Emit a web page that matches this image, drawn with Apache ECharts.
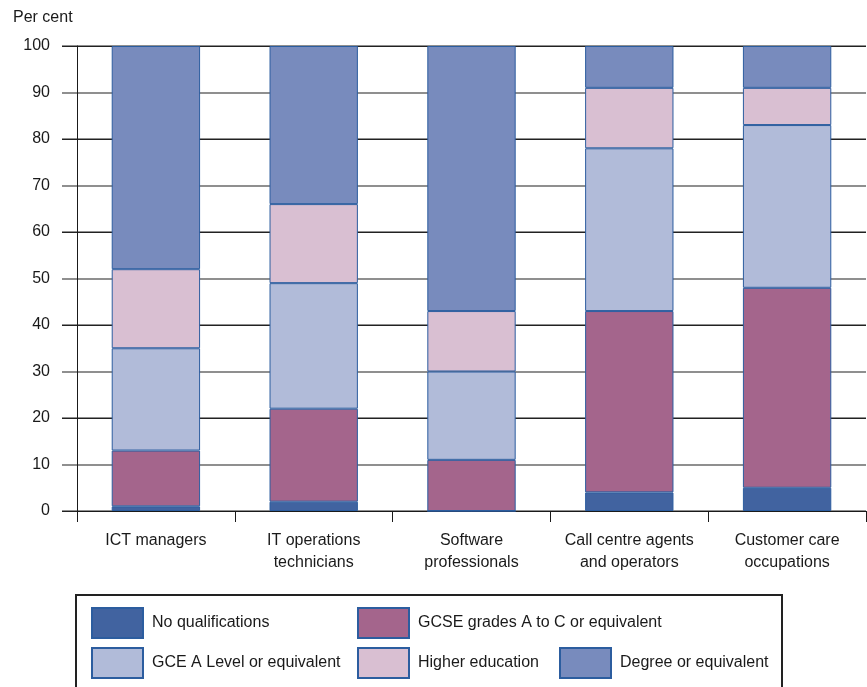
<!DOCTYPE html>
<html>
<head>
<meta charset="utf-8">
<script src="https://cdn.jsdelivr.net/npm/echarts@6/dist/echarts.min.js"></script>
<style>
  html, body { margin: 0; padding: 0; background: #fff; }
  #chart { width: 867px; height: 687px; }
</style>
</head>
<body>
<div id="chart"></div>
<script>
// Highest qualification held, by occupation (per cent)
const categories = [
  'ICT managers',
  'IT operations\ntechnicians',
  'Software\nprofessionals',
  'Call centre agents\nand operators',
  'Customer care\noccupations'
];
const noQualifications = [1, 2, 0, 4, 5];
const gcse = [12, 20, 11, 39, 43];
const aLevel = [22, 27, 19, 35, 35];
const higherEducation = [17, 17, 13, 13, 8];
const degree = [48, 34, 57, 9, 9];

const seriesNames = [
  'No qualifications',
  'GCSE grades A to C or equivalent',
  'GCE A Level or equivalent',
  'Higher education',
  'Degree or equivalent'
];
const seriesValues = [noQualifications, gcse, aLevel, higherEducation, degree];
const seriesColors = ['#4163a0', '#a4658c', '#b1bbd9', '#d9bfd2', '#788bbd'];

const FONT = '"Liberation Sans", Arial, sans-serif';
const FS = 16;

const chart = echarts.init(document.getElementById('chart'), null, { renderer: 'canvas' });

const series = seriesNames.map((name, i) => ({
  name: name,
  type: 'bar',
  stack: 'total',
  barWidth: '56%',
  data: seriesValues[i],
  itemStyle: { color: seriesColors[i], borderColor: '#2c5d9f', borderWidth: 1 },
  emphasis: { disabled: true }
}));

// legend layout: two rows inside a framed box
const legendSlots = [
  { left: 91, top: 607 },
  { left: 357, top: 607 },
  { left: 91, top: 647 },
  { left: 357, top: 647 },
  { left: 559, top: 647 }
];
const legends = seriesNames.map((name, i) => ({
  data: [name],
  left: legendSlots[i].left,
  top: legendSlots[i].top,
  padding: 0,
  icon: 'rect',
  itemWidth: 51,
  itemHeight: 30,
  itemGap: 0,
  selectedMode: false,
  textStyle: { fontFamily: FONT, fontSize: FS, color: '#1a1a1a', padding: [0, 0, 0, 4] }
}));

chart.setOption({
  animation: false,
  backgroundColor: '#fff',
  textStyle: { fontFamily: FONT },
  grid: { left: 77, right: 1, top: 46, bottom: 176, containLabel: false },
  legend: legends,
  xAxis: {
    type: 'category',
    data: categories,
    boundaryGap: true,
    axisLine: { lineStyle: { color: '#1a1a1a', width: 1 } },
    axisTick: { show: true, alignWithLabel: false, interval: 0, length: 11, lineStyle: { color: '#1a1a1a' } },
    axisLabel: { interval: 0, fontFamily: FONT, fontSize: FS, color: '#1a1a1a', lineHeight: 22, margin: 19 }
  },
  yAxis: [
    {
      type: 'value', min: 0, max: 100, interval: 10,
      name: 'Per cent',
      nameLocation: 'end',
      nameGap: 20,
      nameTextStyle: { fontFamily: FONT, fontSize: FS, color: '#1a1a1a', align: 'left', padding: [0, 0, 0, -64] },
      axisLine: { show: false },
      axisTick: { show: true, length: 15, lineStyle: { color: '#8f8f8f', width: 2 } },
      splitLine: { show: true, lineStyle: { color: '#8f8f8f', width: 2 } },
      axisLabel: { fontFamily: FONT, fontSize: FS, color: '#1a1a1a', margin: 27 }
    },
    {
      type: 'value', min: 0, max: 100, interval: 20, position: 'left',
      axisLine: { show: true, lineStyle: { color: '#1a1a1a', width: 1 } },
      axisTick: { show: true, length: 15, lineStyle: { color: '#222', width: 1 } },
      splitLine: { show: true, lineStyle: { color: '#222', width: 1 } },
      axisLabel: { show: false }
    }
  ],
  graphic: [
    {
      type: 'rect',
      shape: { x: 76, y: 595, width: 706, height: 110 },
      style: { fill: 'none', stroke: '#222', lineWidth: 2 },
      silent: true
    }
  ],
  series: series
});
</script>
</body>
</html>
